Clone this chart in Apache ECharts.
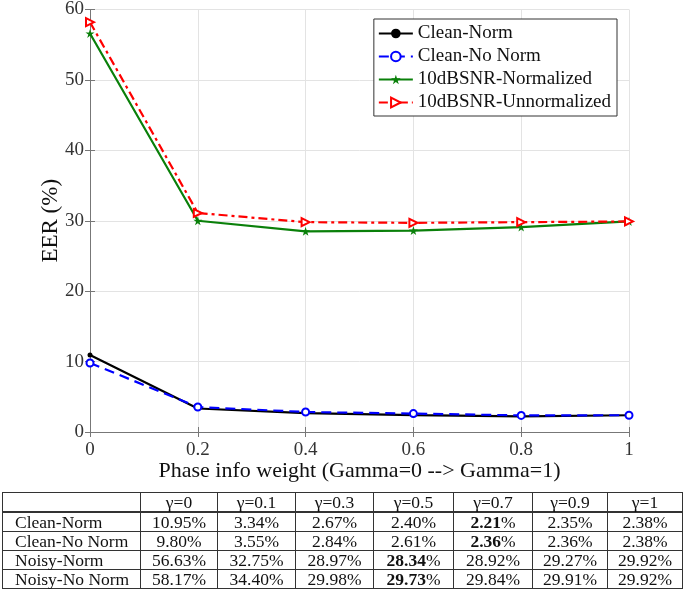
<!DOCTYPE html>
<html>
<head>
<meta charset="utf-8">
<script src="https://cdn.jsdelivr.net/npm/echarts@6/dist/echarts.min.js"></script>
<style>
  html, body { margin: 0; padding: 0; background: #fff; }
  #wrap { position: relative; width: 685px; height: 590px; overflow: hidden; }
  #chart { position: absolute; left: 0; top: 0; width: 685px; height: 590px; }
  #tbl { position: absolute; left: 2px; top: 492px; border-collapse: collapse; table-layout: fixed;
         font-family: "Liberation Serif", "DejaVu Serif", serif; font-size: 17.5px; color: #111; }
  #tbl td { border: 1px solid #333; height: 18px; line-height: 18px; padding: 0; text-align: center; white-space: nowrap; }
  #tbl td.rl { text-align: left; padding-left: 12px; }
  #tbl tr.hd td { border-bottom: 2px solid #333; }
</style>
</head>
<body>
<div id="wrap">
  <div id="chart"></div>
  <table id="tbl"></table>
</div>
<script>
// ---- plot data ----
const xValues = [0, 0.2, 0.4, 0.6, 0.8, 1];
const cleanNorm = [10.95, 3.34, 2.67, 2.40, 2.21, 2.38];
const cleanNoNorm = [9.80, 3.55, 2.84, 2.61, 2.36, 2.38];
const noisyNorm = [56.6, 30.0, 28.5, 28.6, 29.1, 29.9];
const noisyUnnorm = [58.2, 31.1, 29.8, 29.7, 29.8, 29.9];
const seriesNames = ['Clean-Norm', 'Clean-No Norm', '10dBSNR-Normalized', '10dBSNR-Unnormalized'];

// ---- table data ----
const tableHeaders = ['', 'γ=0', 'γ=0.1', 'γ=0.3', 'γ=0.5', 'γ=0.7', 'γ=0.9', 'γ=1'];
const tableRowNames = ['Clean-Norm', 'Clean-No Norm', 'Noisy-Norm', 'Noisy-No Norm'];
const tableCleanNorm = ['10.95', '3.34', '2.67', '2.40', '2.21', '2.35', '2.38'];
const tableCleanNoNorm = ['9.80', '3.55', '2.84', '2.61', '2.36', '2.36', '2.38'];
const tableNoisyNorm = ['56.63', '32.75', '28.97', '28.34', '28.92', '29.27', '29.92'];
const tableNoisyNoNorm = ['58.17', '34.40', '29.98', '29.73', '29.84', '29.91', '29.92'];
const tableBoldIndex = [4, 4, 3, 3];
const colWidths = [138, 77, 78, 78, 80, 79, 75, 75];

// build table
(function () {
  const t = document.getElementById('tbl');
  const cg = document.createElement('colgroup');
  colWidths.forEach(w => { const c = document.createElement('col'); c.style.width = w + 'px'; cg.appendChild(c); });
  t.appendChild(cg);
  const hr = document.createElement('tr'); hr.className = 'hd';
  tableHeaders.forEach(h => { const td = document.createElement('td'); td.textContent = h; hr.appendChild(td); });
  t.appendChild(hr);
  const rows = [tableCleanNorm, tableCleanNoNorm, tableNoisyNorm, tableNoisyNoNorm];
  rows.forEach((vals, r) => {
    const tr = document.createElement('tr');
    const th = document.createElement('td'); th.className = 'rl'; th.textContent = tableRowNames[r]; tr.appendChild(th);
    vals.forEach((v, i) => {
      const td = document.createElement('td');
      if (i === tableBoldIndex[r]) {
        const b = document.createElement('b'); b.textContent = v; td.appendChild(b);
        td.appendChild(document.createTextNode('%'));
      } else td.textContent = v + '%';
      tr.appendChild(td);
    });
    t.appendChild(tr);
  });
})();

const FONT = '"Liberation Serif", "Times New Roman", serif';
const STAR = 'path://M0,-1 L0.2245,-0.309 L0.951,-0.309 L0.363,0.118 L0.588,0.809 L0,0.382 L-0.588,0.809 L-0.363,0.118 L-0.951,-0.309 L-0.2245,-0.309 Z';
const pairs = arr => xValues.map((x, i) => [x, arr[i]]);

const chart = echarts.init(document.getElementById('chart'), null, { renderer: 'canvas' });
const axisGray = '#777';
chart.setOption({
  animation: false,
  backgroundColor: '#fff',
  grid: { left: 90, right: 56, top: 7, bottom: 158, containLabel: false },
  legend: {
    orient: 'vertical', right: 68, top: 19,
    data: seriesNames,
    backgroundColor: '#fff', borderColor: '#333', borderWidth: 1,
    padding: [5, 6, 4, 4], itemGap: 4, itemWidth: 34, itemHeight: 12,
    textStyle: { fontFamily: FONT, fontSize: 19, color: '#111', lineHeight: 19 }
  },
  xAxis: [{
    type: 'value', min: 0, max: 1, interval: 0.2,
    name: 'Phase info weight (Gamma=0 --> Gamma=1)', nameLocation: 'middle', nameGap: 28,
    nameMoveOverlap: false,
    nameTextStyle: { fontFamily: FONT, fontSize: 22, color: '#111' },
    axisLine: { show: true, lineStyle: { color: axisGray, width: 1 } },
    axisTick: { show: true, inside: true, length: 5, lineStyle: { color: axisGray } },
    axisLabel: { fontFamily: FONT, fontSize: 19, color: '#333', margin: 9,
      formatter: v => (Math.round(v * 10) / 10).toString() },
    splitLine: { show: true, lineStyle: { color: '#e3e3e3', width: 1 } }
  }, {
    type: 'value', min: 0, max: 1, interval: 0.2, position: 'top',
    axisLine: { show: true, lineStyle: { color: axisGray, width: 1 } },
    axisTick: { show: true, inside: true, length: 5, lineStyle: { color: axisGray } },
    axisLabel: { show: false }, splitLine: { show: false }
  }],
  yAxis: [{
    type: 'value', min: 0, max: 60, interval: 10,
    name: 'EER (%)', nameLocation: 'middle', nameGap: 28,
    nameMoveOverlap: false,
    nameTextStyle: { fontFamily: FONT, fontSize: 23, color: '#111' },
    axisLine: { show: true, lineStyle: { color: axisGray, width: 1 } },
    axisTick: { show: true, inside: true, length: 5, lineStyle: { color: axisGray } },
    axisLabel: { fontFamily: FONT, fontSize: 19, color: '#333', margin: 6 },
    splitLine: { show: true, lineStyle: { color: '#e3e3e3', width: 1 } }
  }, {
    type: 'value', min: 0, max: 60, interval: 10, position: 'right',
    axisLine: { show: true, lineStyle: { color: axisGray, width: 1 } },
    axisTick: { show: true, inside: true, length: 5, lineStyle: { color: axisGray } },
    axisLabel: { show: false }, splitLine: { show: false }
  }],
  series: [
    { name: seriesNames[0], type: 'line', data: pairs(cleanNorm),
      symbol: 'circle', symbolSize: 5,
      lineStyle: { color: '#000', width: 2.2, type: 'solid' }, itemStyle: { color: '#000' } },
    { name: seriesNames[1], type: 'line', data: pairs(cleanNoNorm),
      symbol: 'emptyCircle', symbolSize: 7,
      lineStyle: { color: '#0000ff', width: 2.2, type: [10, 6] }, itemStyle: { color: '#0000ff', borderWidth: 2 } },
    { name: seriesNames[2], type: 'line', data: pairs(noisyNorm),
      symbol: STAR, symbolSize: 9,
      lineStyle: { color: '#0a800a', width: 2.2, type: 'solid' }, itemStyle: { color: '#0a800a' } },
    { name: seriesNames[3], type: 'line', data: pairs(noisyUnnorm),
      symbol: 'emptyTriangle', symbolSize: 8, symbolRotate: -90,
      lineStyle: { color: '#ff0000', width: 2.2, type: [9, 4, 3, 4] }, itemStyle: { color: '#ff0000', borderWidth: 2 } }
  ]
});
</script>
</body>
</html>
